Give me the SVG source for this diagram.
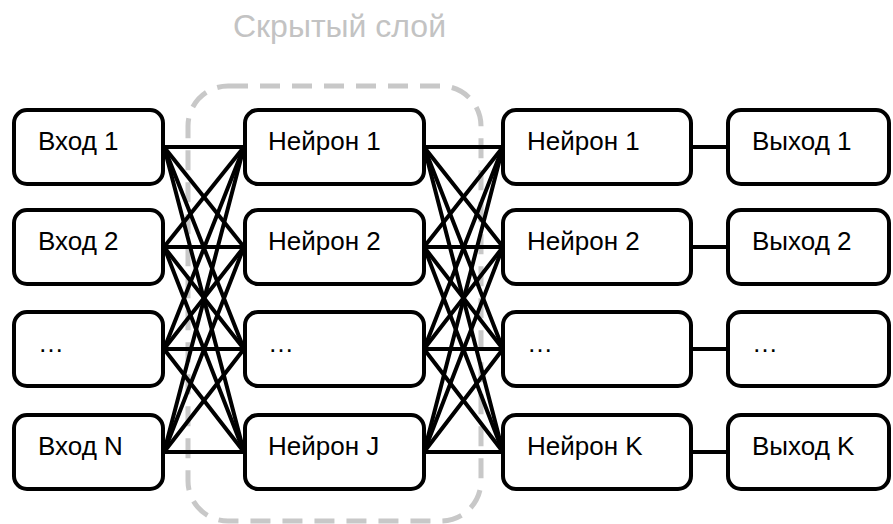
<svg xmlns="http://www.w3.org/2000/svg" width="893" height="524" viewBox="0 0 893 524">
  <style>
    .node rect { fill: #ffffff; stroke: #000000; stroke-width: 4; }
    .node text { font-family: "Liberation Sans", Arial, sans-serif; font-size: 26px; fill: #000000; }
    .links line { stroke: #000000; stroke-width: 4; stroke-linecap: round; }
    .layer { fill: none; stroke: #c8c8c8; stroke-width: 5; stroke-dasharray: 20 12; }
    .title { font-family: "Liberation Sans", Arial, sans-serif; font-size: 32px; fill: #c3c3c3; }
  </style>

  <!-- hidden layer frame -->
  <g id="hidden-layer">
    <rect class="layer" x="188" y="86" width="293" height="435" rx="40" ry="40"/>
    <text class="title" x="233" y="37">Скрытый слой</text>
  </g>

  <!-- connectors -->
  <g id="connectors" class="links">
    <!-- inputs to hidden: every pair -->
    <line x1="164" y1="147" x2="244" y2="147"/>
    <line x1="164" y1="147" x2="244" y2="247"/>
    <line x1="164" y1="147" x2="244" y2="349"/>
    <line x1="164" y1="147" x2="244" y2="452"/>
    <line x1="164" y1="247" x2="244" y2="147"/>
    <line x1="164" y1="247" x2="244" y2="247"/>
    <line x1="164" y1="247" x2="244" y2="349"/>
    <line x1="164" y1="247" x2="244" y2="452"/>
    <line x1="164" y1="349" x2="244" y2="147"/>
    <line x1="164" y1="349" x2="244" y2="247"/>
    <line x1="164" y1="349" x2="244" y2="349"/>
    <line x1="164" y1="349" x2="244" y2="452"/>
    <line x1="164" y1="452" x2="244" y2="147"/>
    <line x1="164" y1="452" x2="244" y2="247"/>
    <line x1="164" y1="452" x2="244" y2="349"/>
    <line x1="164" y1="452" x2="244" y2="452"/>
    <!-- hidden to output neurons: every pair -->
    <line x1="424" y1="147" x2="503" y2="147"/>
    <line x1="424" y1="147" x2="503" y2="247"/>
    <line x1="424" y1="147" x2="503" y2="349"/>
    <line x1="424" y1="147" x2="503" y2="452"/>
    <line x1="424" y1="247" x2="503" y2="147"/>
    <line x1="424" y1="247" x2="503" y2="247"/>
    <line x1="424" y1="247" x2="503" y2="349"/>
    <line x1="424" y1="247" x2="503" y2="452"/>
    <line x1="424" y1="349" x2="503" y2="147"/>
    <line x1="424" y1="349" x2="503" y2="247"/>
    <line x1="424" y1="349" x2="503" y2="349"/>
    <line x1="424" y1="349" x2="503" y2="452"/>
    <line x1="424" y1="452" x2="503" y2="147"/>
    <line x1="424" y1="452" x2="503" y2="247"/>
    <line x1="424" y1="452" x2="503" y2="349"/>
    <line x1="424" y1="452" x2="503" y2="452"/>
    <!-- output neurons to outputs -->
    <line x1="691" y1="147" x2="728" y2="147"/>
    <line x1="691" y1="247" x2="728" y2="247"/>
    <line x1="691" y1="349" x2="728" y2="349"/>
    <line x1="691" y1="452" x2="728" y2="452"/>
  </g>

  <!-- inputs -->
  <g id="in-1" class="node"><rect x="14" y="110" width="149" height="74" rx="13"/><text x="38" y="150">Вход 1</text></g>
  <g id="in-2" class="node"><rect x="14" y="210" width="149" height="74" rx="13"/><text x="38" y="250">Вход 2</text></g>
  <g id="in-dots" class="node"><rect x="14" y="312" width="149" height="74" rx="13"/><text x="38" y="352">…</text></g>
  <g id="in-n" class="node"><rect x="14" y="415" width="149" height="74" rx="13"/><text x="38" y="455">Вход N</text></g>

  <!-- hidden neurons -->
  <g id="hid-1" class="node"><rect x="245" y="110" width="179" height="74" rx="13"/><text x="268" y="150">Нейрон 1</text></g>
  <g id="hid-2" class="node"><rect x="245" y="210" width="179" height="74" rx="13"/><text x="268" y="250">Нейрон 2</text></g>
  <g id="hid-dots" class="node"><rect x="245" y="312" width="179" height="74" rx="13"/><text x="268" y="352">…</text></g>
  <g id="hid-j" class="node"><rect x="245" y="415" width="179" height="74" rx="13"/><text x="268" y="455">Нейрон J</text></g>

  <!-- output neurons -->
  <g id="out-1" class="node"><rect x="503" y="110" width="188" height="74" rx="13"/><text x="527" y="150">Нейрон 1</text></g>
  <g id="out-2" class="node"><rect x="503" y="210" width="188" height="74" rx="13"/><text x="527" y="250">Нейрон 2</text></g>
  <g id="out-dots" class="node"><rect x="503" y="312" width="188" height="74" rx="13"/><text x="527" y="352">…</text></g>
  <g id="out-k" class="node"><rect x="503" y="415" width="188" height="74" rx="13"/><text x="527" y="455">Нейрон K</text></g>

  <!-- outputs -->
  <g id="res-1" class="node"><rect x="728" y="110" width="161" height="74" rx="13"/><text x="752" y="150">Выход 1</text></g>
  <g id="res-2" class="node"><rect x="728" y="210" width="161" height="74" rx="13"/><text x="752" y="250">Выход 2</text></g>
  <g id="res-dots" class="node"><rect x="728" y="312" width="161" height="74" rx="13"/><text x="752" y="352">…</text></g>
  <g id="res-k" class="node"><rect x="728" y="415" width="161" height="74" rx="13"/><text x="752" y="455">Выход K</text></g>
</svg>
